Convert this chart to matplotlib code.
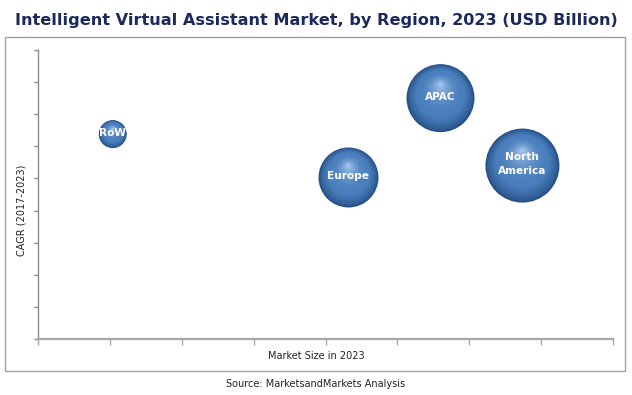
import matplotlib
matplotlib.use("Agg")
import matplotlib.pyplot as plt
from matplotlib.patches import Rectangle
from matplotlib.transforms import ScaledTranslation
import numpy as np

# data (axis units = tick steps)
regions = ["RoW", "Europe", "APAC", "North\nAmerica"]
market_size = [1.04, 4.32, 5.6, 6.74]
cagr = [6.38, 5.03, 7.5, 5.4]
bubble_value = [1.9, 8.8, 11.3, 13.4]

fig = plt.figure(figsize=(6.32, 3.95), dpi=100)
fig.patch.set_facecolor("white")

# outer frame
fig.add_artist(Rectangle((5 / 632, 1 - 371 / 395), 620 / 632, 334 / 395,
                         transform=fig.transFigure, fill=False,
                         edgecolor="#A0A0A0", lw=1.0))

ax = fig.add_axes([38 / 632, 1 - 339 / 395, 575 / 632, 289 / 395])
ax.set_xlim(0, 8)
ax.set_ylim(0, 9)
ax.set_xticks(range(0, 9))
ax.set_yticks(range(0, 10))
ax.set_xticklabels([])
ax.set_yticklabels([])
for s in ["top", "right"]:
    ax.spines[s].set_visible(False)
ax.spines["bottom"].set_color("#A8A8A8")
ax.spines["bottom"].set_linewidth(1.6)
ax.spines["left"].set_color("#8A8A8A")
ax.spines["left"].set_linewidth(1.0)
ax.tick_params(axis="x", direction="out", length=4, color="#A8A8A8", width=1)
ax.tick_params(axis="y", direction="out", length=3, color="#8A8A8A", width=1)

# sphere-like bubbles: stacked discs, lighter and shifted up toward the highlight
dark = np.array([0x24, 0x4E, 0x84]) / 255
mid = np.array([0x4A, 0x7E, 0xBC]) / 255
light = np.array([0xA6, 0xC8, 0xEE]) / 255
k = 37 / np.sqrt(max(bubble_value))  # px radius per sqrt(value)
n = 40
for x, y, v in zip(market_size, cagr, bubble_value):
    r_pt = k * np.sqrt(v) * 0.72
    for i in range(n):
        f = 1 - i / n  # relative radius
        t = i / (n - 1)
        if t < 0.3:
            c = dark + (mid - dark) * (t / 0.3) ** 0.7
        else:
            c = mid + (light - mid) * ((t - 0.3) / 0.7) ** 2.2
        dy = (1 - f) * 0.42 * r_pt
        tr = ax.transData + ScaledTranslation(0, dy / 72, fig.dpi_scale_trans)
        ax.scatter([x], [y], s=(2 * r_pt * f) ** 2, color=c, edgecolors="none",
                   transform=tr, zorder=3 + i * 0.01, clip_on=False)

for x, y, lab in zip(market_size, cagr, regions):
    ax.text(x, y + 0.05, lab, ha="center", va="center", color="white",
            fontsize=7.6, fontweight="bold", family="DejaVu Sans",
            linespacing=1.5, zorder=5)

fig.text(0.5, 1 - 20 / 395, "Intelligent Virtual Assistant Market, by Region, 2023 (USD Billion)",
         ha="center", va="center", fontsize=11.6, fontweight="bold", color="#1B2A5C",
         family="DejaVu Sans")
fig.text(0.5, 1 - 356 / 395, "Market Size in 2023", ha="center", va="center",
         fontsize=7, color="#222222", family="DejaVu Sans")
fig.text(22 / 632, 1 - 210 / 395, "CAGR (2017-2023)", ha="center", va="center",
         rotation=90, fontsize=7, color="#222222", family="DejaVu Sans")
fig.text(0.5, 1 - 384 / 395, "Source: MarketsandMarkets Analysis", ha="center",
         va="center", fontsize=7, color="#222222", family="Liberation Sans Narrow")

fig.savefig("out.png", dpi=100)
